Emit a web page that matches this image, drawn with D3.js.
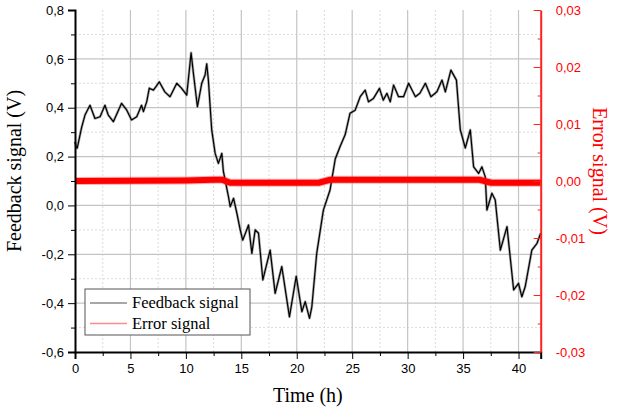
<!DOCTYPE html>
<html>
<head>
<meta charset="utf-8">
<script src="https://cdn.jsdelivr.net/npm/d3@7"></script>
<style>
  body { margin: 0; background: #fff; }
  .tick text { font-family: "Liberation Sans", Arial, sans-serif; font-size: 13px; }
</style>
</head>
<body>
<div id="chart"></div>
<script>
// feedback signal (hours, volts)
const fbTime = [0.0,0.1,0.2,0.6,0.9,1.35,1.8,2.26,2.7,3.0,3.46,4.2,4.67,5.1,5.57,6.0,6.17,6.47,6.7,7.07,7.3,7.6,8.1,8.57,9.18,9.6,10.08,10.47,10.68,11.04,11.43,11.73,11.88,12.03,12.33,12.64,12.93,13.24,13.38,13.84,14.0,14.3,14.6,14.9,15.13,15.65,15.95,16.25,16.55,16.94,17.6,18.05,18.65,19.34,19.95,20.46,20.76,21.15,21.36,21.8,22.4,23.0,23.47,23.9,24.37,24.8,25.27,25.72,26.17,26.47,26.92,27.46,27.8,28.13,28.43,28.73,29.18,29.63,30.09,30.7,31.1,31.6,32.1,32.64,33.1,33.4,33.9,34.4,34.75,35.2,35.65,35.95,36.4,36.7,37.0,37.15,37.6,37.9,38.36,38.96,39.56,40.0,40.3,40.6,41.2,41.67,42.0];
const fbValue = [0.26,0.24,0.235,0.32,0.37,0.41,0.356,0.363,0.41,0.37,0.343,0.418,0.39,0.35,0.363,0.41,0.384,0.425,0.48,0.472,0.486,0.506,0.465,0.445,0.50,0.48,0.452,0.625,0.54,0.404,0.50,0.534,0.58,0.513,0.309,0.213,0.172,0.213,0.14,0.036,-0.005,0.029,-0.032,-0.10,-0.142,-0.08,-0.196,-0.10,-0.114,-0.305,-0.183,-0.36,-0.25,-0.456,-0.29,-0.435,-0.394,-0.462,-0.415,-0.196,-0.019,0.063,0.19,0.24,0.29,0.377,0.39,0.445,0.472,0.424,0.438,0.479,0.431,0.459,0.424,0.493,0.445,0.445,0.50,0.445,0.459,0.50,0.445,0.465,0.513,0.465,0.554,0.513,0.309,0.235,0.309,0.158,0.131,0.158,0.117,-0.019,0.05,0.022,-0.183,-0.087,-0.346,-0.319,-0.374,-0.333,-0.183,-0.155,-0.114];

// error signal (hours, volts)
const errTime = [0.0,10.0,12.5,13.3,14.0,22.0,23.0,36.5,37.5,42.0];
const errValue = [0.0,0.0001,0.0002,0.0002,-0.0003,-0.0003,0.0002,0.0002,-0.0003,-0.0003];

const xTicks = [0,5,10,15,20,25,30,35,40];
const yLeftTicks = [-0.6,-0.4,-0.2,0.0,0.2,0.4,0.6,0.8];
const yRightTicks = [-0.03,-0.02,-0.01,0.0,0.01,0.02,0.03];
const legendLabels = ["Feedback signal", "Error signal"];

const W = 621, H = 409;
const margin = {top: 10, right: 80.3, bottom: 57, left: 75},
    width = W - margin.left - margin.right,
    height = H - margin.top - margin.bottom;

const locale = d3.formatLocale({decimal: ",", thousands: ".", grouping: [3], currency: ["", ""], minus: "-"});
const f1 = locale.format(".1f"), f2 = locale.format(".2f");

const svg = d3.select("#chart").append("svg")
    .attr("width", W).attr("height", H)
  .append("g")
    .attr("transform", `translate(${margin.left},${margin.top})`);

const x = d3.scaleLinear().domain([0, 42]).range([0, width]);
const y0 = d3.scaleLinear().domain([-0.6, 0.8]).range([height, 0]);
const y1 = d3.scaleLinear().domain([-0.03, 0.03]).range([height, 0]);

// minor grid (dotted)
const xMinor = xTicks.map(d => d + 2.5).filter(d => d < 42);
const yMinor = yLeftTicks.slice(0, -1).map(d => d + 0.1);
svg.append("g").selectAll("line").data(xMinor).join("line")
    .attr("x1", d => x(d)).attr("x2", d => x(d)).attr("y1", 0).attr("y2", height)
    .attr("stroke", "#dcdcdc").attr("stroke-dasharray", "2,2");
svg.append("g").selectAll("line").data(yMinor).join("line")
    .attr("y1", d => y0(d)).attr("y2", d => y0(d)).attr("x1", 0).attr("x2", width)
    .attr("stroke", "#dcdcdc").attr("stroke-dasharray", "2,2");
// major grid
svg.append("g").selectAll("line").data(xTicks.filter(d => d > 0)).join("line")
    .attr("x1", d => x(d)).attr("x2", d => x(d)).attr("y1", 0).attr("y2", height)
    .attr("stroke", "#c4c4c4").attr("stroke-width", 1.2);
svg.append("g").selectAll("line").data(yLeftTicks.filter(d => d > -0.6 && d < 0.8)).join("line")
    .attr("y1", d => y0(d)).attr("y2", d => y0(d)).attr("x1", 0).attr("x2", width)
    .attr("stroke", "#c4c4c4").attr("stroke-width", 1.2);

// feedback line
const fbData = fbTime.map((t, i) => ({t: t, v: fbValue[i]}));
const fbLine = d3.line().x(d => x(d.t)).y(d => y0(d.v));
svg.append("path").datum(fbData)
    .attr("fill", "none").attr("stroke", "#444").attr("stroke-opacity", 0.45)
    .attr("stroke-width", 2.6).attr("stroke-linejoin", "round").attr("d", fbLine);
svg.append("path").datum(fbData)
    .attr("fill", "none").attr("stroke", "#000")
    .attr("stroke-width", 1.2).attr("stroke-linejoin", "round").attr("d", fbLine);

// error line (thick noisy band)
const errData = errTime.map((t, i) => ({t: t, v: errValue[i]}));
const errLine = d3.line().x(d => x(d.t)).y(d => y1(d.v));
svg.append("path").datum(errData)
    .attr("fill", "none").attr("stroke", "#ff2020").attr("stroke-opacity", 0.35)
    .attr("stroke-width", 8).attr("d", errLine);
svg.append("path").datum(errData)
    .attr("fill", "none").attr("stroke", "#ff0000")
    .attr("stroke-width", 6).attr("d", errLine);

// axes
const xAxis = svg.append("g").attr("transform", `translate(0,${height})`)
    .call(d3.axisBottom(x).tickValues(xTicks).tickSize(7).tickPadding(5).tickFormat(d3.format("d")));
svg.append("g").attr("transform", `translate(0,${height})`)
    .call(d3.axisBottom(x).tickValues(xMinor).tickSize(4).tickFormat(""))
    .call(g => g.select(".domain").remove());
xAxis.select(".domain").attr("stroke-width", 2);

const yAxis = svg.append("g")
    .call(d3.axisLeft(y0).tickValues(yLeftTicks).tickSize(7).tickPadding(4).tickFormat(f1));
svg.append("g")
    .call(d3.axisLeft(y0).tickValues(yMinor).tickSize(4).tickFormat(""))
    .call(g => g.select(".domain").remove());
yAxis.select(".domain").attr("stroke-width", 2);

const yAxisR = svg.append("g").attr("transform", `translate(${width},0)`)
    .call(d3.axisRight(y1).tickValues(yRightTicks).tickSizeInner(-7).tickSizeOuter(0).tickPadding(15).tickFormat(f2));
const yAxisRMinor = svg.append("g").attr("transform", `translate(${width},0)`)
    .call(d3.axisRight(y1).tickValues(yRightTicks.slice(0, -1).map(d => d + 0.005)).tickSize(-3).tickFormat(""))
    .call(g => g.select(".domain").remove());
[yAxisR, yAxisRMinor].forEach(g => g.selectAll("line, path").attr("stroke", "#ff2020"));
yAxisR.select(".domain").attr("stroke-width", 2);
yAxisR.selectAll("text").attr("fill", "#ff0000");

// axis titles
svg.append("text")
    .attr("x", width / 2).attr("y", height + 50)
    .attr("text-anchor", "middle")
    .attr("font-family", "Liberation Serif, Times New Roman, serif").attr("font-size", 20)
    .text("Time (h)");
svg.append("text")
    .attr("transform", `translate(${-54},${height / 2 - 10}) rotate(-90)`)
    .attr("text-anchor", "middle")
    .attr("font-family", "Liberation Serif, Times New Roman, serif").attr("font-size", 20)
    .text("Feedback signal (V)");
svg.append("text")
    .attr("transform", `translate(${width + 52},${height / 2 - 10}) rotate(90)`)
    .attr("text-anchor", "middle")
    .attr("fill", "#ff0000")
    .attr("font-family", "Liberation Serif, Times New Roman, serif").attr("font-size", 20)
    .text("Error signal (V)");

// legend
const lg = svg.append("g").attr("transform", `translate(${85 - margin.left},${289 - margin.top})`);
lg.append("rect").attr("width", 165).attr("height", 46)
    .attr("fill", "#fff").attr("stroke", "#555").attr("stroke-width", 1);
const legendColors = ["#8a8a8a", "#ff8a8a"];
const rows = lg.selectAll("g").data(legendLabels).join("g")
    .attr("transform", (d, i) => `translate(0,${14 + i * 20.5})`);
rows.append("line").attr("x1", 5).attr("x2", 42)
    .attr("stroke", (d, i) => legendColors[i]).attr("stroke-width", 1.3);
rows.append("text").attr("x", 47).attr("dy", "0.32em")
    .attr("font-family", "Liberation Serif, Times New Roman, serif").attr("font-size", 16.5)
    .text(d => d);
</script>
</body>
</html>
